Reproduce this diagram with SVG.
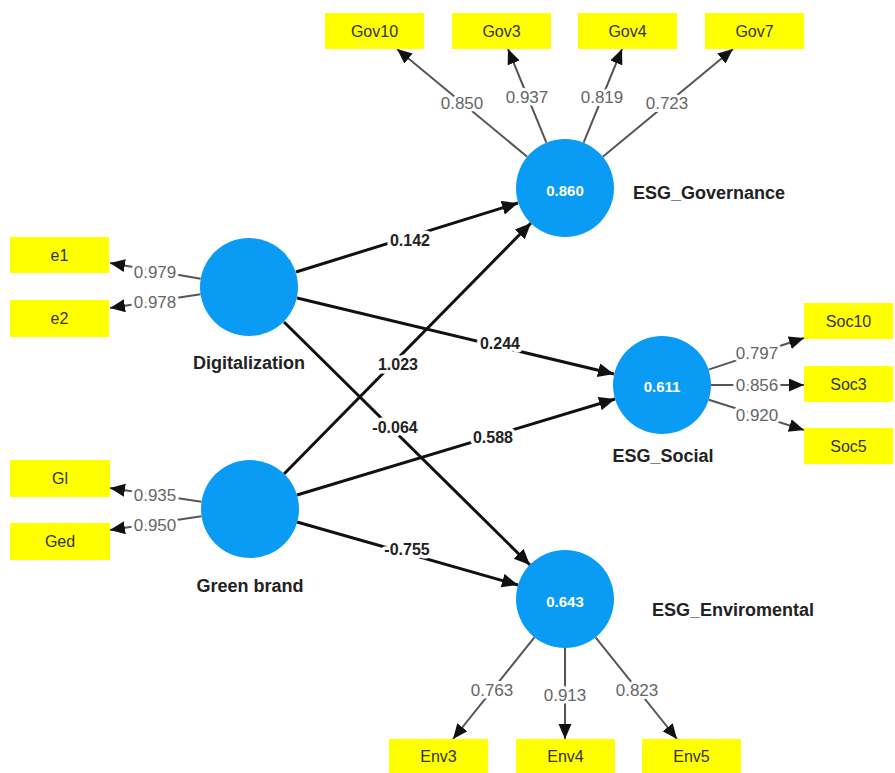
<svg xmlns="http://www.w3.org/2000/svg" width="895" height="773" viewBox="0 0 895 773">
<style>
.bg{fill:#ffffff}
.ind{fill:#ffff00}
.indt{font-family:"Liberation Sans",Arial,sans-serif;font-size:16px;fill:#333;text-anchor:middle;dominant-baseline:central}
.lv{fill:#0a9bf5}
.lvv{font-family:"Liberation Sans",Arial,sans-serif;font-size:15px;font-weight:bold;fill:#fff;text-anchor:middle;dominant-baseline:central}
.lvn{font-family:"Liberation Sans",Arial,sans-serif;font-size:18px;font-weight:bold;fill:#222;dominant-baseline:central}
.ld{stroke:#555;stroke-width:2;fill:none;marker-end:url(#ah)}
.pth{stroke:#111;stroke-width:3;fill:none;marker-end:url(#ah2)}
.ldt{font-family:"Liberation Sans",Arial,sans-serif;font-size:17px;fill:#666;text-anchor:middle;dominant-baseline:central;stroke:#fff;stroke-width:6;paint-order:stroke;stroke-linejoin:round}
.pt{font-family:"Liberation Sans",Arial,sans-serif;font-size:16px;font-weight:bold;fill:#222;text-anchor:middle;dominant-baseline:central;stroke:#fff;stroke-width:7;paint-order:stroke;stroke-linejoin:round}
</style>
<defs>
<marker id="ah" markerUnits="userSpaceOnUse" markerWidth="16" markerHeight="14" refX="15" refY="6.5" orient="auto">
<path d="M0,0 L15,6.5 L0,13 z" fill="#111"/>
</marker>
<marker id="ah2" markerUnits="userSpaceOnUse" markerWidth="18" markerHeight="16" refX="16" refY="7" orient="auto">
<path d="M0,0 L16,7 L0,14 z" fill="#111"/>
</marker>
</defs>
<rect class="bg" x="0" y="0" width="895" height="773"/>

<g id="connectors">
<line class="ld" x1="527.2" y1="156.8" x2="397" y2="49"/>
<line class="ld" x1="546.4" y1="142.7" x2="508" y2="49"/>
<line class="ld" x1="583.6" y1="142.7" x2="622" y2="49"/>
<line class="ld" x1="602.8" y1="156.8" x2="733" y2="49"/>
<line class="ld" x1="200.7" y1="278.7" x2="110" y2="263"/>
<line class="ld" x1="200.6" y1="294.3" x2="110" y2="308"/>
<line class="ld" x1="201.5" y1="501.7" x2="110" y2="488"/>
<line class="ld" x1="201.5" y1="516.3" x2="110" y2="530"/>
<line class="ld" x1="708.5" y1="369.6" x2="804" y2="338"/>
<line class="ld" x1="711" y1="385" x2="804" y2="385"/>
<line class="ld" x1="708.7" y1="399.8" x2="804" y2="430"/>
<line class="ld" x1="534.4" y1="637.3" x2="453" y2="739"/>
<line class="ld" x1="565" y1="648" x2="565" y2="739"/>
<line class="ld" x1="595.6" y1="637.3" x2="677" y2="739"/>
<line class="pth" x1="296" y1="272" x2="518" y2="203"/>
<line class="pth" x1="297" y1="298" x2="614" y2="374"/>
<line class="pth" x1="284" y1="322" x2="530" y2="565"/>
<line class="pth" x1="284" y1="474" x2="531" y2="223"/>
<line class="pth" x1="297" y1="495" x2="615" y2="399"/>
<line class="pth" x1="297" y1="522" x2="518" y2="585"/>
<text class="ldt" x="462" y="103">0.850</text>
<text class="ldt" x="527" y="97">0.937</text>
<text class="ldt" x="602" y="97">0.819</text>
<text class="ldt" x="667" y="103">0.723</text>
<text class="ldt" x="155" y="272">0.979</text>
<text class="ldt" x="155" y="302">0.978</text>
<text class="ldt" x="155" y="495">0.935</text>
<text class="ldt" x="155" y="525">0.950</text>
<text class="ldt" x="757" y="353">0.797</text>
<text class="ldt" x="757" y="385">0.856</text>
<text class="ldt" x="757" y="415">0.920</text>
<text class="ldt" x="492" y="690">0.763</text>
<text class="ldt" x="565" y="695">0.913</text>
<text class="ldt" x="637" y="690">0.823</text>
<text class="pt" x="410" y="240">0.142</text>
<text class="pt" x="500" y="343">0.244</text>
<text class="pt" x="395" y="427">-0.064</text>
<text class="pt" x="398" y="364">1.023</text>
<text class="pt" x="493" y="437">0.588</text>
<text class="pt" x="407" y="549">-0.755</text>
</g>

<g id="gov10"><rect class="ind" x="325" y="13" width="99" height="36"/><text class="indt" x="374.5" y="31">Gov10</text></g>
<g id="gov3"><rect class="ind" x="452" y="13" width="99" height="36"/><text class="indt" x="501.5" y="31">Gov3</text></g>
<g id="gov4"><rect class="ind" x="578" y="13" width="99" height="36"/><text class="indt" x="627.5" y="31">Gov4</text></g>
<g id="gov7"><rect class="ind" x="705" y="13" width="99" height="36"/><text class="indt" x="754.5" y="31">Gov7</text></g>
<g id="e1"><rect class="ind" x="10" y="237" width="99" height="36"/><text class="indt" x="59.5" y="255">e1</text></g>
<g id="e2"><rect class="ind" x="10" y="300" width="99" height="37"/><text class="indt" x="59.5" y="318.5">e2</text></g>
<g id="gl"><rect class="ind" x="10" y="460" width="100" height="37"/><text class="indt" x="60" y="478.5">Gl</text></g>
<g id="ged"><rect class="ind" x="10" y="523" width="100" height="37"/><text class="indt" x="60" y="541.5">Ged</text></g>
<g id="soc10"><rect class="ind" x="804" y="303" width="89" height="36"/><text class="indt" x="848.5" y="321">Soc10</text></g>
<g id="soc3"><rect class="ind" x="804" y="366" width="89" height="36"/><text class="indt" x="848.5" y="384">Soc3</text></g>
<g id="soc5"><rect class="ind" x="804" y="428" width="89" height="36"/><text class="indt" x="848.5" y="446">Soc5</text></g>
<g id="env3"><rect class="ind" x="389" y="739" width="99" height="34"/><text class="indt" x="438.5" y="756">Env3</text></g>
<g id="env4"><rect class="ind" x="516" y="739" width="99" height="34"/><text class="indt" x="565.5" y="756">Env4</text></g>
<g id="env5"><rect class="ind" x="642" y="739" width="99" height="34"/><text class="indt" x="691.5" y="756">Env5</text></g>

<g id="esg_governance"><circle class="lv" cx="565" cy="188" r="49"/><text class="lvv" x="565" y="190">0.860</text><text class="lvn" x="633" y="193">ESG_Governance</text></g>
<g id="digitalization"><circle class="lv" cx="249" cy="287" r="49"/><text class="lvn" x="249" y="363" text-anchor="middle">Digitalization</text></g>
<g id="green_brand"><circle class="lv" cx="250" cy="509" r="49"/><text class="lvn" x="250" y="586" text-anchor="middle">Green brand</text></g>
<g id="esg_social"><circle class="lv" cx="662" cy="385" r="49"/><text class="lvv" x="662" y="386">0.611</text><text class="lvn" x="663" y="456" text-anchor="middle">ESG_Social</text></g>
<g id="esg_enviromental"><circle class="lv" cx="565" cy="599" r="49"/><text class="lvv" x="565" y="601">0.643</text><text class="lvn" x="652" y="610">ESG_Enviromental</text></g>
</svg>
